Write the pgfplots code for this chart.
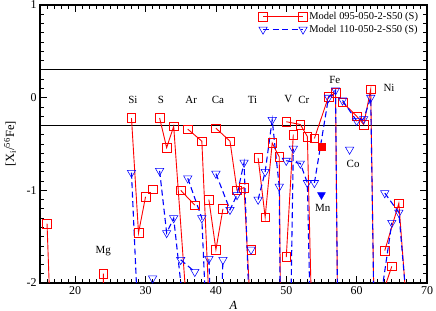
\documentclass[border=0pt]{standalone}
\usepackage{pgfplots}
\pgfplotsset{compat=1.18}
\usepackage{pgfplotstable}
\usepackage{fontspec}
\setmainfont{Liberation Serif}

\pgfplotstableread{
x y
16 -1.36
17 -3.5
nan nan
24 -1.90
25 -30
nan nan
28 -0.22
29 -1.46
30 -1.07
nan nan
31 -0.99
nan nan
32 -0.22
33 -0.54
34 -0.31
36 -2.43
nan nan
35 -1.00
37 -1.16
nan nan
36 -0.34
38 -0.47
40 -3.87
nan nan
39 -1.10
40 -1.64
41 -1.20
nan nan
40 -0.33
42 -0.47
43 -1.00
44 -0.97
46 -3.9
nan nan
45 -1.64
nan nan
46 -0.65
47 -1.29
48 -0.49
49 -0.64
50 -9.7
nan nan
50 -1.72
51 -0.40
nan nan
50 -0.26
52 -0.29
53 -0.42
54 -3.6
nan nan
54 -0.44
56 0.01
57 0.05
58 -8
nan nan
58 -0.05
60 -0.20
61 -0.29
62 0.09
64 -10
nan nan
63 -2.27
65 -1.82
nan nan
64 -1.65
66 -1.14
67 -2.15
}\modelA

\pgfplotstableread{
x y
28 -0.81
29 -2.51
30 -3
nan nan
31 -1.95
nan nan
32 -0.79
33 -1.46
34 -1.30
36 -2.69
nan nan
35 -1.75
37 -1.88
nan nan
36 -0.87
38 -1.30
40 -4.8
nan nan
39 -1.74
40 -4
41 -1.75
nan nan
40 -0.82
42 -1.21
43 -1.05
44 -0.70
46 -5.0
nan nan
45 -1.64
nan nan
46 -1.10
47 -0.80
48 -0.24
49 -0.96
50 -10
nan nan
50 -5.4
51 -0.55
nan nan
50 -0.68
52 -0.71
53 -0.92
54 -4.5
nan nan
54 -0.92
56 0.00
57 0.08
58 -8
nan nan
59 -0.56
nan nan
58 -0.03
60 -0.25
61 -0.23
62 0.00
64 -10
nan nan
63 -2.39
65 -1.35
nan nan
64 -1.03
66 -1.24
67 -2.13
}\modelB

\begin{document}
\begin{tikzpicture}
\begin{axis}[
  scale only axis, width=387bp, height=278bp,
  xmin=15, xmax=70, ymin=-2, ymax=1,
  xtick={10,20,...,70}, ytick={-2,-1,0,1},
  minor x tick num=9, minor y tick num=9,
  tick align=inside,
  major tick length=7bp, minor tick length=4bp,
  axis line style={line width=1.2pt},
  every tick/.style={black, line width=0.7pt},
  tick label style={font=\fontsize{12}{14}\selectfont},
  /pgf/number format/assume math mode=true,
  xlabel={\textit{A}},
  ylabel={[X\textsubscript{i}/\textsuperscript{56}Fe]},
  every axis x label/.style={at={(axis description cs:0.5,0)}, anchor=center, yshift=-22bp,
    font=\fontsize{12.5}{14}\selectfont},
  every axis y label/.style={at={(axis description cs:0,0.5)}, anchor=center, xshift=-30bp, rotate=90,
    font=\fontsize{12.5}{14}\selectfont},
  unbounded coords=jump,
  legend style={draw=none, fill=none, at={(0.985,0.985)}, anchor=north east,
    font=\fontsize{10.5}{13}\selectfont, row sep=0pt, inner sep=1pt},
  legend cell align=left,
  legend image code/.code={
    \draw[#1, mark repeat=2, mark phase=1] plot coordinates {(0bp,0bp) (20bp,0bp) (40bp,0bp)};
  },
]
\addplot[black, line width=1.1pt, forget plot] coordinates {(15,0.3) (70,0.3)};
\addplot[black, line width=1.1pt, forget plot] coordinates {(15,-0.3) (70,-0.3)};

\addplot[red, line width=0.9pt, mark=square, mark size=4.3bp,
  mark options={solid, line width=0.55pt}] table[x=x, y=y] {\modelA};
\addlegendentry{Model 095-050-2-S50 (S)}
\addplot[blue, line width=1.1pt, dash pattern=on 6bp off 3.5bp, mark=triangle, mark size=4.8bp,
  mark options={solid, rotate=180, line width=0.55pt}] table[x=x, y=y] {\modelB};
\addlegendentry{Model 110-050-2-S50 (S)}

\addplot[red, only marks, mark=square*, mark size=3.6bp, forget plot] coordinates {(55,-0.53)};
\addplot[blue, only marks, mark=triangle*, mark size=4.5bp, mark options={rotate=180}, forget plot] coordinates {(55,-1.05)};

\begin{scope}[every node/.style={font=\fontsize{11}{12}\selectfont}]
\node at (axis cs:24,-1.66) {Mg};
\node at (axis cs:28.2,-0.02) {Si};
\node at (axis cs:32.2,-0.02) {S};
\node at (axis cs:36.5,-0.02) {Ar};
\node at (axis cs:40.3,-0.02) {Ca};
\node at (axis cs:45.2,-0.02) {Ti};
\node at (axis cs:50.3,-0.02) {V};
\node at (axis cs:52.5,-0.02) {Cr};
\node at (axis cs:56.9,0.19) {Fe};
\node at (axis cs:64.6,0.11) {Ni};
\node at (axis cs:59.5,-0.72) {Co};
\node at (axis cs:55.2,-1.19) {Mn};
\end{scope}
\coordinate (sw) at (rel axis cs:0,0);
\coordinate (ne) at (rel axis cs:1,1);
\end{axis}
\pgfresetboundingbox
\path[use as bounding box] ([shift={(-40bp,-28bp)}]sw) rectangle ([shift={(9bp,5bp)}]ne);
\end{tikzpicture}
\end{document}
